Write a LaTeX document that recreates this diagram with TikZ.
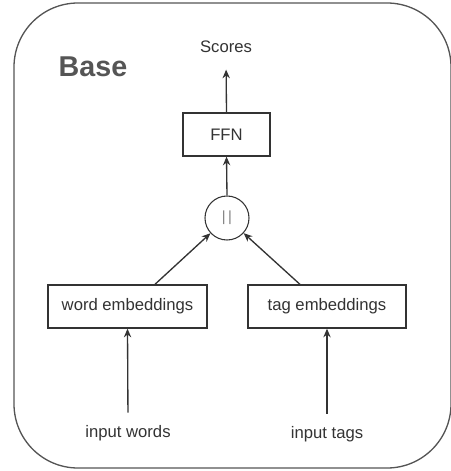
\documentclass[tikz,border=0pt]{standalone}
\usepackage{fontspec}
\setmainfont{Liberation Sans}
\usetikzlibrary{arrows.meta}
\definecolor{ink}{HTML}{333333}
\definecolor{basegray}{HTML}{555555}
\begin{document}
\begin{tikzpicture}[x=0.75pt,y=-0.75pt,
  every node/.style={font=\fontsize{12.5pt}{15pt}\selectfont, text=ink},
  boxnode/.style={draw=ink, line width=1pt, fill=white, minimum height=32.25pt, inner sep=0pt},
  conn/.style={draw=ink, line width=1pt, -{Stealth[length=6.5pt,width=5.5pt]}},
  catnode/.style={draw=ink, line width=0.8pt, circle, minimum size=33pt, inner sep=0pt}
]
\useasboundingbox (0,0) rectangle (450,471);
\draw[basegray, line width=1pt, rounded corners=48pt] (14,3) rectangle (451,468);
\node[anchor=west, font=\fontsize{21.5pt}{25pt}\selectfont\bfseries, text=basegray] (base) at (54,67) {Base};
\node (scores) at (226,47) {Scores};
\node[boxnode, minimum width=65.25pt] (ffn) at (226.5,134.5) {FFN};
\node[catnode] (cat) at (227,218) {\color{gray}\fontsize{11pt}{13pt}\selectfont |\,|};
\node[boxnode, minimum width=119.25pt] (wemb) at (127.5,306.5) {word embeddings};
\node[boxnode, minimum width=118.5pt] (temb) at (327,306.5) {tag embeddings};
\node (iw) at (128,433) {input words};
\node (it) at (327,434) {input tags};
\draw[conn, shorten >=9pt] (ffn.north) -- (scores.south);
\draw[conn] (cat.north) -- (ffn.south);
\draw[conn] ([xshift=20.6pt]wemb.north) -- (cat);
\draw[conn] ([xshift=-20.3pt]temb.north) -- (cat);
\draw[conn, shorten <=6pt] (iw.north) -- (wemb.south);
\draw[conn, shorten <=6pt] (it.north) -- (temb.south);
\end{tikzpicture}
\end{document}
